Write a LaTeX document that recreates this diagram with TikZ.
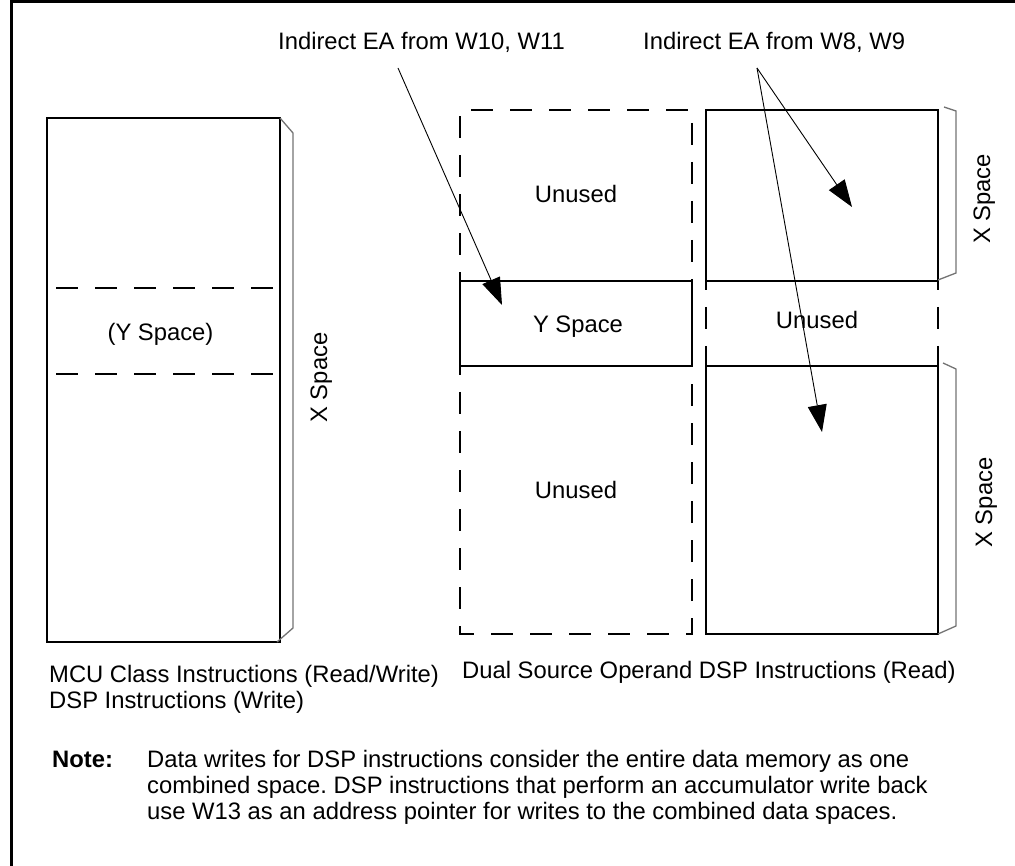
\documentclass[tikz,border=0pt]{standalone}
\usepackage{fontspec}
\setmainfont{Liberation Sans}
\usetikzlibrary{arrows.meta}
\newcommand\dgfont{\fontsize{23.8}{26}\selectfont}
\frenchspacing
\begin{document}
\begin{tikzpicture}[x=1pt,y=-1pt,
  box/.style={line width=2.2pt},
  dsh/.style={line width=2.2pt,dash pattern=on 22pt off 17pt,dash phase=13pt},
  brc/.style={line width=1.3pt,draw=black!55,line join=miter},
  ptr/.style={line width=0.9pt,-{Triangle[length=27pt,width=19pt]}},
  lbl/.style={inner sep=0pt,font=\dgfont},
]
\useasboundingbox (0,0) rectangle (1015,866);
% frame (top and left edges)
\draw[line width=3pt] (11,866) -- (11,2) -- (1015,2);

% left column
\draw[box] (47,118) rectangle (280,642);
\draw[dsh,dash phase=30pt] (47,288) -- (280,288);
\draw[dsh,dash phase=30pt] (47,374) -- (280,374);
\draw[brc] (280,118) -- (293,133) -- (293,628) -- (277,642);
\node[lbl,anchor=base] (ysp) at (160.5,341) {(Y Space)};
\node[lbl,rotate=90,anchor=base] (xl) at (327,377.5) {X Space};

% middle column
\draw[dsh] (460,281) -- (460,110) -- (692,110) -- (692,281);
\draw[box] (460,281) rectangle (692,366);
\draw[dsh] (460,366) -- (460,634) -- (692,634) -- (692,366);
\node[lbl,anchor=base] (un1) at (576,203) {Unused};
\node[lbl,anchor=base] (ys) at (578,333) {Y Space};
\node[lbl,anchor=base] (un2) at (576,498) {Unused};

% right column
\draw[box] (706,110) rectangle (938,281);
\draw[box] (706,366) rectangle (938,634);
\draw[dsh] (706,281) -- (706,366);
\draw[dsh] (938,281) -- (938,366);
\node[lbl,anchor=base] (un3) at (817,329) {Unused};
\draw[brc] (944,107) -- (956,111) -- (956,273) -- (938,280);
\draw[brc] (943,363) -- (956,369) -- (956,626) -- (938,634);
\node[lbl,rotate=90,anchor=base] (xr1) at (990,199) {X Space};
\node[lbl,rotate=90,anchor=base] (xr2) at (992,502.5) {X Space};

% pointer labels and arrows
\node[lbl,anchor=base west] (ea1) at (278,50) {Indirect EA from W10, W11};
\node[lbl,anchor=base west] (ea2) at (643,50) {Indirect EA from W8, W9};
\coordinate (s1) at (398,68);
\coordinate (t1) at (502,305);
\coordinate (s2) at (757,68);
\coordinate (t2) at (852,207);
\coordinate (t3) at (822,432);
\draw[ptr] (s1) -- (t1);
\draw[ptr] (s2) -- (t2);
\draw[ptr] (s2) -- (t3);

% captions
\node[lbl,anchor=base west] (c1) at (49,682) {MCU Class Instructions (Read/Write)};
\node[lbl,anchor=base west] (c2) at (49,708) {DSP Instructions (Write)};
\node[lbl,anchor=base west] (c3) at (462,678) {Dual Source Operand DSP Instructions (Read)};

% note
\node[lbl,anchor=base west,font=\dgfont\bfseries] (nt) at (52,767) {Note:};
\node[lbl,anchor=base west] (n1) at (147,767) {Data writes for DSP instructions consider the entire data memory as one};
\node[lbl,anchor=base west] (n2) at (147,793) {combined space. DSP instructions that perform an accumulator write back};
\node[lbl,anchor=base west] (n3) at (147,819) {use W13 as an address pointer for writes to the combined data spaces.};
\end{tikzpicture}
\end{document}
